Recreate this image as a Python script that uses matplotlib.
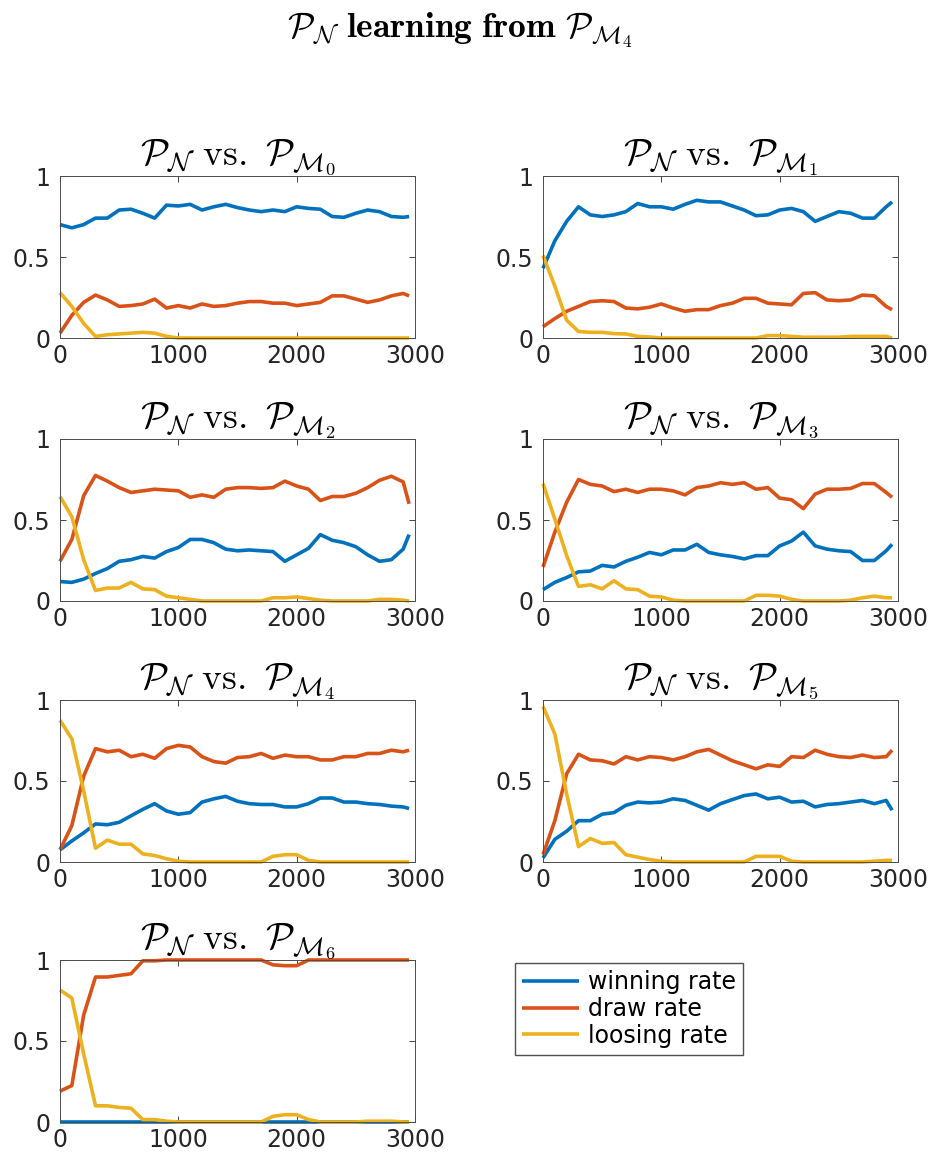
import numpy as np
import matplotlib
matplotlib.use("Agg")
import matplotlib.pyplot as plt

plt.rcParams['mathtext.fontset'] = 'cm'
plt.rcParams['font.family'] = ['DejaVu Sans']

# episodes (x values)
x = [0, 100, 200, 300, 400, 500, 600, 700, 800, 900, 1000, 1100, 1200, 1300, 1400,
     1500, 1600, 1700, 1800, 1900, 2000, 2100, 2200, 2300, 2400, 2500, 2600, 2700,
     2800, 2900, 2950]

opponents = ['0', '1', '2', '3', '4', '5', '6']
series_names = ['winning rate', 'draw rate', 'loosing rate']
colors = ['#0072BD', '#D95319', '#EDB120']

# ---- vs M0
win_m0 = [0.70, 0.68, 0.70, 0.74, 0.74, 0.79, 0.795, 0.77, 0.74, 0.82, 0.815, 0.825, 0.79, 0.81, 0.825,
          0.805, 0.79, 0.78, 0.79, 0.78, 0.81, 0.80, 0.795, 0.75, 0.745, 0.77, 0.79, 0.78, 0.75, 0.745, 0.75]
draw_m0 = [0.03, 0.14, 0.22, 0.265, 0.235, 0.195, 0.20, 0.21, 0.24, 0.185, 0.20, 0.185, 0.21, 0.195, 0.20,
           0.215, 0.225, 0.225, 0.215, 0.215, 0.20, 0.21, 0.22, 0.26, 0.26, 0.24, 0.22, 0.235, 0.26, 0.275, 0.26]
lose_m0 = [0.28, 0.195, 0.09, 0.01, 0.02, 0.025, 0.03, 0.035, 0.03, 0.01, 0.0, 0.0, 0.0, 0.0, 0.0,
           0.0, 0.0, 0.0, 0.0, 0.0, 0.0, 0.0, 0.0, 0.0, 0.0, 0.0, 0.0, 0.0, 0.0, 0.0, 0.0]

# ---- vs M1
win_m1 = [0.43, 0.60, 0.72, 0.81, 0.76, 0.75, 0.76, 0.78, 0.83, 0.81, 0.81, 0.795, 0.825, 0.85, 0.84,
          0.84, 0.815, 0.79, 0.755, 0.76, 0.79, 0.80, 0.78, 0.72, 0.75, 0.78, 0.77, 0.74, 0.74, 0.81, 0.84]
draw_m1 = [0.07, 0.12, 0.165, 0.195, 0.225, 0.23, 0.225, 0.185, 0.18, 0.19, 0.21, 0.185, 0.165, 0.175, 0.175,
           0.20, 0.215, 0.245, 0.245, 0.215, 0.21, 0.205, 0.275, 0.28, 0.235, 0.23, 0.235, 0.265, 0.26, 0.195, 0.175]
lose_m1 = [0.51, 0.32, 0.11, 0.04, 0.035, 0.035, 0.027, 0.025, 0.01, 0.006, 0.0, 0.0, 0.0, 0.0, 0.0,
           0.0, 0.0, 0.0, 0.0, 0.015, 0.015, 0.01, 0.005, 0.005, 0.005, 0.005, 0.01, 0.01, 0.01, 0.01, 0.0]

# ---- vs M2
win_m2 = [0.12, 0.115, 0.135, 0.17, 0.20, 0.245, 0.255, 0.275, 0.265, 0.305, 0.33, 0.38, 0.38, 0.36, 0.32,
          0.31, 0.315, 0.31, 0.305, 0.245, 0.285, 0.325, 0.41, 0.375, 0.36, 0.335, 0.285, 0.245, 0.255, 0.32, 0.41]
draw_m2 = [0.245, 0.38, 0.65, 0.775, 0.74, 0.70, 0.67, 0.68, 0.69, 0.685, 0.68, 0.64, 0.655, 0.64, 0.69,
           0.70, 0.70, 0.695, 0.70, 0.74, 0.71, 0.69, 0.62, 0.645, 0.645, 0.665, 0.70, 0.745, 0.77, 0.735, 0.60]
lose_m2 = [0.645, 0.52, 0.255, 0.065, 0.08, 0.08, 0.115, 0.075, 0.07, 0.03, 0.02, 0.01, 0.0, 0.0, 0.0,
           0.0, 0.0, 0.0, 0.02, 0.02, 0.025, 0.015, 0.005, 0.0, 0.0, 0.0, 0.0, 0.01, 0.01, 0.005, 0.0]

# ---- vs M3
win_m3 = [0.07, 0.115, 0.145, 0.18, 0.185, 0.22, 0.21, 0.245, 0.27, 0.30, 0.285, 0.315, 0.315, 0.35, 0.30,
          0.285, 0.275, 0.26, 0.28, 0.28, 0.34, 0.37, 0.425, 0.34, 0.32, 0.31, 0.305, 0.25, 0.25, 0.31, 0.35]
draw_m3 = [0.21, 0.425, 0.61, 0.75, 0.72, 0.71, 0.675, 0.69, 0.67, 0.69, 0.69, 0.68, 0.655, 0.70, 0.71,
           0.73, 0.72, 0.73, 0.69, 0.70, 0.635, 0.625, 0.57, 0.66, 0.69, 0.69, 0.695, 0.725, 0.725, 0.67, 0.64]
lose_m3 = [0.725, 0.505, 0.28, 0.09, 0.10, 0.075, 0.125, 0.075, 0.07, 0.03, 0.025, 0.005, 0.0, 0.0, 0.0,
           0.0, 0.0, 0.0, 0.035, 0.035, 0.03, 0.01, 0.0, 0.0, 0.0, 0.0, 0.005, 0.02, 0.03, 0.02, 0.02]

# ---- vs M4
win_m4 = [0.075, 0.13, 0.18, 0.235, 0.23, 0.245, 0.285, 0.325, 0.36, 0.315, 0.295, 0.305, 0.37, 0.39, 0.405,
          0.375, 0.36, 0.355, 0.355, 0.34, 0.34, 0.36, 0.395, 0.395, 0.37, 0.37, 0.36, 0.355, 0.345, 0.34, 0.33]
draw_m4 = [0.075, 0.225, 0.53, 0.70, 0.68, 0.69, 0.65, 0.665, 0.64, 0.70, 0.72, 0.71, 0.65, 0.62, 0.61,
           0.645, 0.65, 0.67, 0.64, 0.66, 0.65, 0.65, 0.63, 0.63, 0.65, 0.65, 0.67, 0.67, 0.69, 0.68, 0.69]
lose_m4 = [0.875, 0.76, 0.44, 0.085, 0.135, 0.11, 0.11, 0.05, 0.04, 0.02, 0.005, 0.0, 0.0, 0.0, 0.0,
           0.0, 0.0, 0.0, 0.035, 0.045, 0.045, 0.01, 0.0, 0.0, 0.0, 0.0, 0.0, 0.0, 0.0, 0.0, 0.0]

# ---- vs M5
win_m5 = [0.025, 0.14, 0.19, 0.255, 0.255, 0.295, 0.305, 0.35, 0.37, 0.365, 0.37, 0.39, 0.38, 0.35, 0.32,
          0.36, 0.385, 0.41, 0.42, 0.39, 0.40, 0.37, 0.375, 0.34, 0.355, 0.36, 0.37, 0.38, 0.36, 0.38, 0.32]
draw_m5 = [0.045, 0.255, 0.545, 0.665, 0.63, 0.625, 0.605, 0.65, 0.63, 0.65, 0.645, 0.63, 0.65, 0.68, 0.695,
           0.66, 0.625, 0.60, 0.575, 0.60, 0.59, 0.65, 0.645, 0.69, 0.665, 0.65, 0.645, 0.66, 0.645, 0.65, 0.69]
lose_m5 = [0.96, 0.79, 0.42, 0.095, 0.145, 0.115, 0.12, 0.045, 0.03, 0.015, 0.005, 0.0, 0.0, 0.0, 0.0,
           0.0, 0.0, 0.0, 0.035, 0.035, 0.035, 0.005, 0.0, 0.0, 0.0, 0.0, 0.0, 0.0, 0.005, 0.01, 0.01]

# ---- vs M6
win_m6 = [0.0] * 31
draw_m6 = [0.19, 0.225, 0.66, 0.895, 0.895, 0.905, 0.915, 0.995, 0.995, 1.0, 1.0, 1.0, 1.0, 1.0, 1.0,
           1.0, 1.0, 1.0, 0.97, 0.965, 0.965, 1.0, 1.0, 1.0, 1.0, 1.0, 1.0, 1.0, 1.0, 1.0, 1.0]
lose_m6 = [0.815, 0.765, 0.42, 0.10, 0.10, 0.09, 0.085, 0.015, 0.015, 0.005, 0.0, 0.0, 0.0, 0.0, 0.0,
           0.0, 0.0, 0.0, 0.035, 0.045, 0.045, 0.015, 0.0, 0.0, 0.0, 0.0, 0.005, 0.005, 0.005, 0.0, 0.0]

panels = [
    (win_m0, draw_m0, lose_m0),
    (win_m1, draw_m1, lose_m1),
    (win_m2, draw_m2, lose_m2),
    (win_m3, draw_m3, lose_m3),
    (win_m4, draw_m4, lose_m4),
    (win_m5, draw_m5, lose_m5),
    (win_m6, draw_m6, lose_m6),
]

W, H = 932, 1160
fig = plt.figure(figsize=(W / 100, H / 100), dpi=100)

col_left = [60, 543]
row_top = [176, 439, 700, 960]
ax_w, ax_h = 355, 162

axc = '#262626'
handles = None
for i, (opp, data) in enumerate(zip(opponents, panels)):
    r, c = divmod(i, 2)
    left = col_left[c] / W
    bottom = 1 - (row_top[r] + ax_h) / H
    ax = fig.add_axes([left, bottom, ax_w / W, ax_h / H])
    lines = []
    for vals, col, name in zip(data, colors, series_names):
        ln, = ax.plot(x, vals, color=col, lw=2.6, label=name, solid_capstyle='butt',
                      clip_on=False)
        lines.append(ln)
    handles = lines
    ax.set_xlim(0, 3000)
    ax.set_ylim(0, 1)
    ax.set_xticks([0, 1000, 2000, 3000])
    ax.set_yticks([0, 0.5, 1])
    ax.set_yticklabels(['0', '0.5', '1'])
    ax.tick_params(direction='in', top=True, right=True, length=4, width=0.6,
                   color=axc, labelcolor=axc, labelsize=17)
    ax.tick_params(axis='x', pad=4)
    ax.tick_params(axis='y', pad=7)
    for sp in ax.spines.values():
        sp.set_color('#4d4d4d')
        sp.set_linewidth(0.7)
    ax.set_title(r'$\mathcal{P}_{\mathcal{N}}\ \mathrm{vs.}\ \mathcal{P}_{\mathcal{M}_{%s}}$' % opp,
                 fontsize=27, pad=8, color='black')

fig.legend(handles, series_names, loc='upper left',
           bbox_to_anchor=(515 / W, 1 - 963 / H), borderaxespad=0,
           fontsize=17, frameon=True, fancybox=False, edgecolor='#262626',
           handlelength=2.4, handletextpad=0.4, labelspacing=0.12,
           borderpad=0.3)

fig.suptitle(r'$\mathcal{P}_{\mathcal{N}}\ \mathbf{learning\ from}\ \mathcal{P}_{\mathcal{M}_4}$',
             fontsize=25.5, x=0.493, y=1 - 30 / H, va='center')

fig.savefig('out.png', dpi=100)
